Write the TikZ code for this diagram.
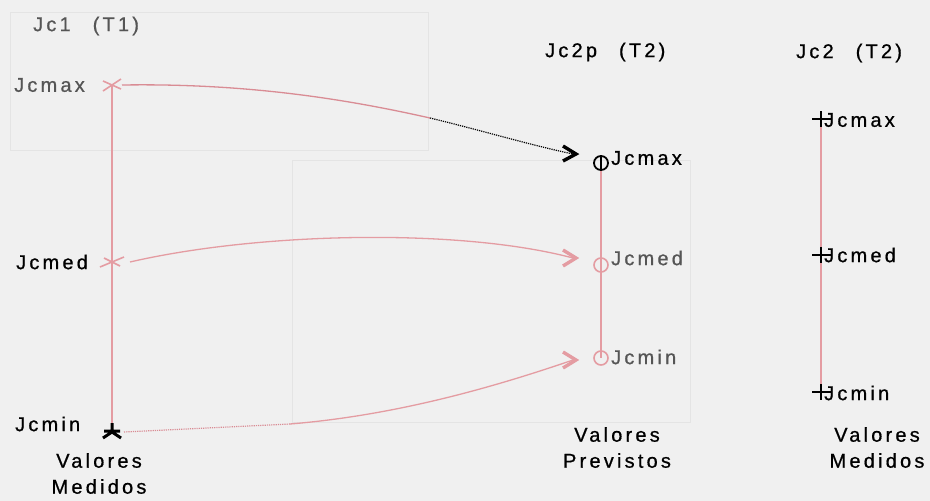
\documentclass[tikz,border=0pt]{standalone}
\usepackage{fontspec}
\setmainfont{Liberation Sans}[LetterSpace=16,FakeBold=0.7]
\usetikzlibrary{arrows.meta,calc}
\definecolor{bg}{HTML}{F0F0F0}
\definecolor{pinkl}{HTML}{E49CA2}
\definecolor{pinkd}{HTML}{D98C94}
\definecolor{grayt}{HTML}{555555}
\definecolor{faint}{HTML}{E4E4E4}
\tikzset{
  lbl/.style={font=\fontsize{20}{26}\selectfont, inner sep=0pt, text=black},
  glbl/.style={lbl, text=grayt},
  axisline/.style={draw=pinkl, line width=1.6pt},
  pinkcurve/.style={draw=pinkl, line width=1.3pt},
  chev/.style={line width=3.4pt, line join=miter, line cap=butt},
  mk/.style={line width=1.6pt},
}
\begin{document}
\begin{tikzpicture}[x=1pt,y=-1pt]
\fill[bg] (0,0) rectangle (930,501);
\useasboundingbox (0,0) rectangle (930,501);
% faint background boxes
\draw[faint, line width=0.8pt] (10,12) rectangle (428,150);
\draw[faint, line width=0.8pt] (292,160) rectangle (690,422);

% titles
\node[glbl, anchor=west] (t1) at (33,26) {Jc1\hspace{22pt}(T1)};
\node[lbl, anchor=west] (t2p) at (545,52) {Jc2p\hspace{22pt}(T2)};
\node[lbl, anchor=west] (t2) at (796,53) {Jc2\hspace{22pt}(T2)};

% left axis
\coordinate (Lmax) at (112,85);
\coordinate (Lmed) at (112,262);
\coordinate (Lmin) at (112,432);
\draw[axisline] (Lmax) -- (Lmin);
\draw[pinkl, mk] ($(Lmax)+(-9,6)$) -- ($(Lmax)+(9,-6)$) ($(Lmax)+(-9,-4)$) -- ($(Lmax)+(9,4)$);
\draw[pinkl, mk] ($(Lmed)+(-12,5)$) -- ($(Lmed)+(12,-5)$) ($(Lmed)+(-8,-4)$) -- ($(Lmed)+(8,4)$);
\draw[black, line width=3pt] ($(Lmin)+(-9,6)$) -- ($(Lmin)+(0,0)$) -- ($(Lmin)+(9,6)$) ($(Lmin)+(-8,-1)$) -- ($(Lmin)+(8,-1)$) ($(Lmin)+(0,0)$) -- ($(Lmin)+(0,-9)$);
\node[glbl, anchor=west] (lmaxl) at (14,85) {Jcmax};
\node[lbl, anchor=west] (lmedl) at (16,262) {Jcmed};
\node[lbl, anchor=west] (lminl) at (15,424) {Jcmin};
\node[lbl, align=center, anchor=north] (lval) at (99,453) {Valores\\Medidos};

% middle axis
\coordinate (Mmax) at (601,163);
\coordinate (Mmed) at (601,265);
\coordinate (Mmin) at (601,358);
\draw[axisline] (Mmax) -- (Mmin);
\draw[black, line width=1.8pt] (Mmax) circle (7pt);
\draw[black, line width=1.6pt] ($(Mmax)+(0,-7)$) -- ($(Mmax)+(0,7)$);
\draw[pinkl, line width=1.6pt] (Mmed) circle (7pt);
\draw[pinkl, line width=1.6pt] (Mmin) circle (7pt);
\node[lbl, anchor=west] (mmaxl) at (611,158) {Jcmax};
\node[glbl, anchor=west] (mmedl) at (611,258) {Jcmed};
\node[glbl, anchor=west] (mminl) at (611,357) {Jcmin};
\node[lbl, align=center, anchor=north] (mval) at (617,427) {Valores\\Previstos};

% right axis
\coordinate (Rmax) at (821,119);
\coordinate (Rmed) at (821,255);
\coordinate (Rmin) at (821,392);
\draw[axisline] (Rmax) -- (Rmin);
\foreach \p in {Rmax,Rmed,Rmin}{
  \draw[black, line width=1.7pt] ($(\p)+(-9,0)$) -- ($(\p)+(11,0)$) ($(\p)+(0,-8)$) -- ($(\p)+(0,8)$);
}
\node[lbl, anchor=west] (rmaxl) at (824,120) {Jcmax};
\node[lbl, anchor=west] (rmedl) at (824,255) {Jcmed};
\node[lbl, anchor=west] (rminl) at (824,393) {Jcmin};
\node[lbl, align=center, anchor=north] (rval) at (877,427) {Valores\\Medidos};

% connectors
\coordinate (A1) at (122,85);
\coordinate (A1m) at (430,118);
\coordinate (A1e) at (576,154);
\draw[pinkd, line width=1.3pt] (A1) .. controls (250,83) and (350,100) .. (A1m);
\draw[black, line width=1.2pt, densely dotted] (A1m) .. controls (480,130) and (530,145) .. ($(A1e)+(-3,0)$);
\draw[black, chev] ($(A1e)+(-13,-8)$) -- (A1e) -- ($(A1e)+(-13,7)$);

\coordinate (A2) at (130,262);
\coordinate (A2e) at (576,258);
\draw[pinkcurve] (A2) .. controls (260,232) and (460,228) .. ($(A2e)+(-3,0)$);
\draw[pinkl, chev] ($(A2e)+(-13,-8)$) -- (A2e) -- ($(A2e)+(-13,8)$);

\coordinate (A3) at (124,432);
\coordinate (A3m) at (290,424);
\coordinate (A3e) at (576,360);
\draw[pinkd, line width=1.2pt, densely dotted] (A3) -- (A3m);
\draw[pinkcurve] (A3m) .. controls (400,415) and (500,385) .. ($(A3e)+(-3,0)$);
\draw[pinkl, chev] ($(A3e)+(-13,-8)$) -- (A3e) -- ($(A3e)+(-13,8)$);
\end{tikzpicture}
\end{document}
